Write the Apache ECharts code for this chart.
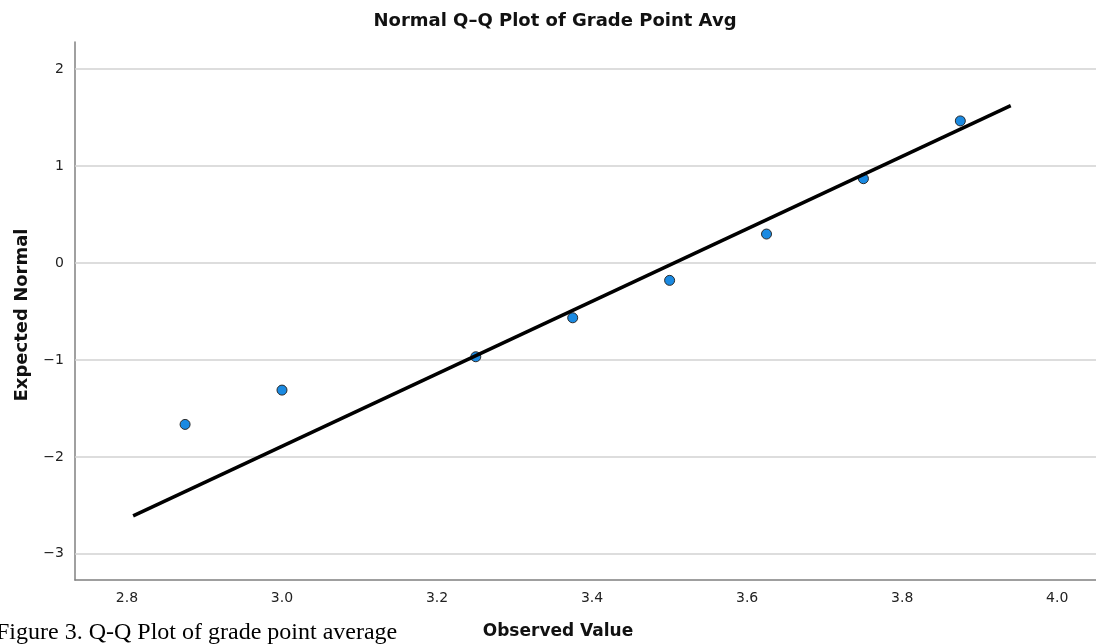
<!DOCTYPE html>
<html>
<head>
<meta charset="utf-8">
<script src="https://cdn.jsdelivr.net/npm/echarts@6/dist/echarts.min.js"></script>
<style>
  html, body { margin: 0; padding: 0; background: #fff; }
  #chart { width: 1096px; height: 644px; }
</style>
</head>
<body>
<div id="chart"></div>
<script>
var observed = [2.875, 3.0, 3.25, 3.375, 3.5, 3.625, 3.75, 3.875];
var expected = [-1.665, -1.311, -0.967, -0.565, -0.179, 0.299, 0.870, 1.466];

// reference line end points (x, y)
var lineX = [2.808, 3.940];
var lineY = [-2.609, 1.624];

var xTicks = [2.8, 3.0, 3.2, 3.4, 3.6, 3.8, 4.0];
var yTicks = [-3, -2, -1, 0, 1, 2];

var chart = echarts.init(document.getElementById("chart"), null, { renderer: "canvas" });

var pts = [];
for (var i = 0; i < observed.length; i++) pts.push([observed[i], expected[i]]);
var refLine = [];
for (var j = 0; j < lineX.length; j++) refLine.push([lineX[j], lineY[j]]);

var gridLines = yTicks.map(function (v) { return { yAxis: v }; });

var sans = "'DejaVu Sans', 'Open Sans', sans-serif";

chart.setOption({
    animation: false,
    backgroundColor: "#fff",
    grid: { left: 75, top: 42, right: 0, bottom: 64, containLabel: false },
    xAxis: {
        type: "value",
        min: 2.733,
        max: 4.05,
        axisLine: { show: true, onZero: false, lineStyle: { color: "#808080", width: 1.5 } },
        axisTick: { show: false },
        splitLine: { show: false },
        axisLabel: {
            customValues: xTicks,
            margin: 11,
            color: "#222",
            fontSize: 14,
            fontFamily: sans,
            formatter: function (v) { return v.toFixed(1); }
        }
    },
    yAxis: {
        type: "value",
        min: -3.27,
        max: 2.28,
        axisLine: { show: true, onZero: false, lineStyle: { color: "#808080", width: 1.5 } },
        axisTick: { show: false },
        splitLine: { show: false },
        axisLabel: {
            customValues: yTicks,
            margin: 11,
            color: "#222",
            fontSize: 14,
            fontFamily: sans,
            formatter: function (v) { return String(v).replace("-", "\u2212"); }
        }
    },
    series: [{
        type: "scatter",
        data: pts,
        z: 2,
        symbol: "circle",
        symbolSize: 10,
        itemStyle: { color: "#1a8ae2", borderColor: "#2b2b2b", borderWidth: 1, opacity: 1 },
        markLine: {
            silent: true,
            symbol: "none",
            label: { show: false },
            lineStyle: { color: "#d2d2d2", width: 1.5, type: "solid" },
            emphasis: { disabled: true },
            data: gridLines,
            z: 1
        }
    }, {
        type: "line",
        data: refLine,
        z: 3,
        symbol: "none",
        lineStyle: { color: "#000", width: 3.5 }
    }],
    graphic: [{
        type: "text",
        x: 555, y: 21,
        style: {
            text: "Normal Q\u2013Q Plot of Grade Point Avg",
            align: "center",
            verticalAlign: "middle",
            fill: "#111",
            font: "bold 18px " + sans
        }
    }, {
        type: "text",
        x: 22, y: 315,
        rotation: Math.PI / 2,
        style: {
            text: "Expected Normal",
            align: "center",
            verticalAlign: "middle",
            fill: "#111",
            font: "bold 18px " + sans
        }
    }, {
        type: "text",
        x: 558, y: 632,
        style: {
            text: "Observed Value",
            align: "center",
            verticalAlign: "middle",
            fill: "#111",
            font: "bold 17px " + sans
        }
    }, {
        type: "text",
        x: -4, y: 633,
        style: {
            text: "Figure 3. Q-Q Plot of grade point average",
            align: "left",
            verticalAlign: "middle",
            fill: "#000",
            font: "24px 'Liberation Serif', 'Times New Roman', serif"
        }
    }]
});
</script>
</body>
</html>
